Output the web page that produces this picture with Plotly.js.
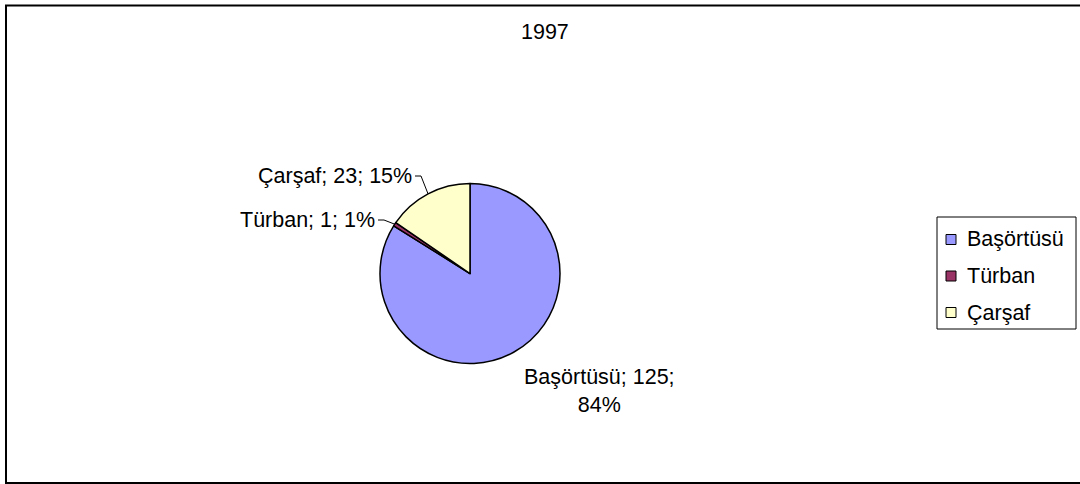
<!DOCTYPE html>
<html>
<head>
<meta charset="utf-8">
<script src="https://cdn.plot.ly/plotly-3.0.1.min.js"></script>
<style>html,body{margin:0;padding:0;background:#fff;}#chart{width:1080px;height:484px;}</style>
</head>
<body>
<div id="chart"></div>
<script>
var chartTitle = "1997";
var categories = ["Başörtüsü", "Türban", "Çarşaf"];
var values = [125, 1, 23];
var colors = ["#9999FF", "#993366", "#FFFFCC"];

var W = 1080, H = 484;
var FONT = "Liberation Sans, Arial, sans-serif";
var FS = 21.5;
// pie geometry (pixels)
var cx = 470, cy = 273.5, R = 90;
function px(x){ return x / W; }
function py(y){ return 1 - y / H; }

var total = values.reduce(function(a,b){return a+b;}, 0);
var pct = values.map(function(v){ return Math.round(v / total * 100); });

// mid-angle edge points (clockwise from 12 o'clock)
var edge = [];
var cum = 0;
for (var i = 0; i < values.length; i++) {
  var mid = (cum + values[i] / 2) / total * 2 * Math.PI;
  edge.push([cx + R * Math.sin(mid), cy - R * Math.cos(mid)]);
  cum += values[i];
}

function lbl(i, br){ return categories[i] + "; " + values[i] + ";" + (br ? "<br>" : " ") + pct[i] + "%"; }

var trace = {
  type: "pie",
  labels: categories,
  values: values,
  sort: false,
  direction: "clockwise",
  rotation: 0,
  textinfo: "none",
  hoverinfo: "label+value+percent",
  showlegend: false,
  marker: { colors: colors, line: { color: "#000000", width: 1.5 } },
  domain: { x: [px(cx - R), px(cx + R)], y: [py(cy + R), py(cy - R)] }
};

// label anchor points (text end) for the leader lines
var anchors = { 1: [378, 220], 2: [415, 176] };
var shapes = [{
  type: "rect", xref: "paper", yref: "paper",
  x0: px(6), x1: 1.05, y0: py(483), y1: py(5.5),
  line: { color: "#000000", width: 2 }, fillcolor: "rgba(0,0,0,0)"
}];
[1, 2].forEach(function(i){
  var a = anchors[i], e = edge[i];
  var p = "M" + px(a[0]) + "," + py(a[1]) + " L" + px(a[0] + 6) + "," + py(a[1]) + " L" + px(e[0]) + "," + py(e[1]);
  shapes.push({ type: "path", xref: "paper", yref: "paper", path: p, line: { color: "#000000", width: 1 } });
});

var annotations = [
  { text: chartTitle, x: px(545), y: py(31.5), xref: "paper", yref: "paper", showarrow: false, xanchor: "center", yanchor: "middle", font: { family: FONT, size: FS, color: "#000" } },
  { text: lbl(2, false), x: px(anchors[2][0] - 1), y: py(anchors[2][1]), xref: "paper", yref: "paper", showarrow: false, xanchor: "right", yanchor: "middle", font: { family: FONT, size: FS, color: "#000" } },
  { text: lbl(1, false), x: px(anchors[1][0] - 1), y: py(anchors[1][1]), xref: "paper", yref: "paper", showarrow: false, xanchor: "right", yanchor: "middle", font: { family: FONT, size: FS, color: "#000" } },
  { text: lbl(0, true), x: px(599), y: py(391), xref: "paper", yref: "paper", showarrow: false, xanchor: "center", yanchor: "middle", align: "center", font: { family: FONT, size: FS, color: "#000" } }
];

// legend box (drawn with shapes + annotations)
var legX0 = 937, legX1 = 1076, legY0 = 217, legY1 = 329;
var legRow0 = 239.5, legStep = 36.5, sq = 10, sqX = 946, textX = 965;
shapes.push({ type: "rect", xref: "paper", yref: "paper", x0: px(legX0), x1: px(legX1), y0: py(legY1), y1: py(legY0), line: { color: "#000000", width: 1 }, fillcolor: "#ffffff" });
categories.forEach(function(c, i){
  var yc = legRow0 + i * legStep;
  shapes.push({ type: "rect", xref: "paper", yref: "paper", x0: px(sqX), x1: px(sqX + sq), y0: py(yc + sq/2), y1: py(yc - sq/2), line: { color: "#000000", width: 1 }, fillcolor: colors[i] });
  annotations.push({ text: c, x: px(textX), y: py(yc), xref: "paper", yref: "paper", showarrow: false, xanchor: "left", yanchor: "middle", font: { family: FONT, size: FS, color: "#000" } });
});

var layout = {
  width: W, height: H,
  margin: { l: 0, r: 0, t: 0, b: 0 },
  paper_bgcolor: "#ffffff",
  plot_bgcolor: "#ffffff",
  font: { family: FONT, size: FS, color: "#000" },
  showlegend: false,
  shapes: shapes,
  annotations: annotations
};

Plotly.newPlot("chart", [trace], layout, { displayModeBar: false, staticPlot: true });
</script>
</body>
</html>
